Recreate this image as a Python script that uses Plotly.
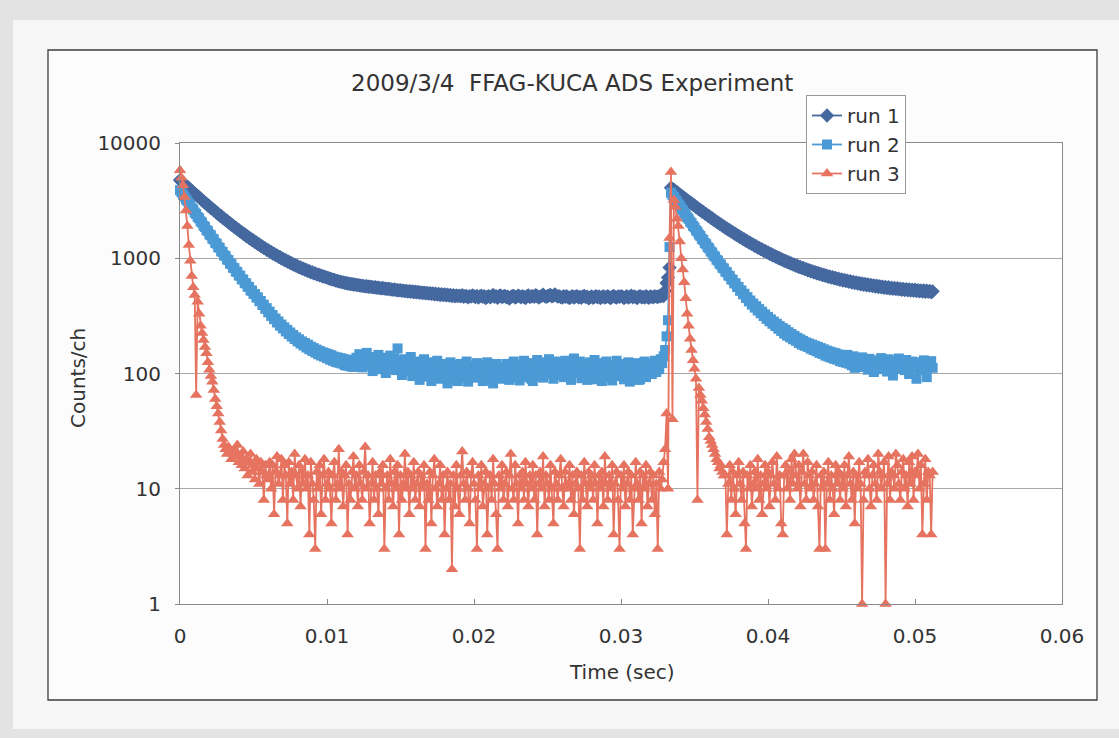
import plotly.graph_objects as go

# Channel width of the time spectrum (s)
CHANNEL_WIDTH = 0.0001

run1 = [
    4770, 4630, 4530, 4380, 4290, 4150, 4070, 3930, 3860, 3730,
    3660, 3540, 3470, 3360, 3300, 3180, 3130, 3020, 2980, 2870,
    2830, 2730, 2690, 2600, 2560, 2470, 2440, 2350, 2330, 2240,
    2215, 2140, 2115, 2040, 2020, 1950, 1925, 1860, 1842, 1780,
    1762, 1700, 1686, 1630, 1615, 1560, 1548, 1495, 1484, 1436,
    1425, 1378, 1370, 1325, 1316, 1274, 1265, 1228, 1220, 1182,
    1176, 1140, 1135, 1100, 1096, 1063, 1060, 1028, 1026, 995,
    993, 964, 962, 935, 933, 907, 906, 881, 880, 857,
    856, 834, 834, 812, 813, 792, 793, 773, 774, 755,
    756, 740, 738, 726, 722, 712, 706, 698, 694, 686,
    678, 672, 664, 660, 652, 648, 640, 636, 630, 626,
    620, 618, 612, 610, 604, 602, 598, 596, 592, 590,
    588, 584, 582, 578, 576, 574, 570, 572, 566, 568,
    564, 562, 558, 560, 554, 556, 550, 548, 552, 544,
    546, 540, 544, 536, 538, 532, 536, 528, 530, 526,
    528, 522, 524, 518, 522, 514, 518, 512, 516, 508,
    512, 506, 510, 502, 506, 498, 504, 496, 500, 494,
    498, 490, 496, 486, 492, 484, 490, 480, 488, 478,
    486, 476, 484, 474, 480, 470, 478, 468, 476, 470,
    474, 466, 478, 462, 472, 468, 458, 470, 464, 476,
    468, 460, 472, 456, 466, 474, 462, 468, 450, 464,
    470, 458, 466, 480, 462, 470, 454, 468, 476, 460,
    466, 472, 458, 464, 446, 460, 468, 472, 456, 462,
    474, 466, 458, 470, 462, 452, 468, 476, 460, 466,
    470, 462, 478, 468, 456, 464, 472, 484, 470, 462,
    468, 476, 480, 466, 472, 486, 474, 464, 470, 460,
    456, 468, 462, 470, 458, 450, 462, 468, 456, 464,
    470, 458, 462, 454, 466, 472, 460, 464, 448, 458,
    466, 454, 462, 470, 458, 466, 452, 460, 468, 456,
    462, 470, 458, 450, 464, 472, 460, 456, 466, 462,
    470, 464, 452, 460, 468, 456, 462, 474, 458, 466,
    460, 452, 464, 470, 458, 462, 456, 468, 460, 454,
    466, 462, 458, 470, 464, 460, 472, 466, 476, 470,
    520, 610, 680, 830,
    4100, 3980, 3930, 3800, 3760, 3630, 3590, 3470, 3430, 3310,
    3280, 3170, 3135, 3030, 3000, 2900, 2870, 2775, 2750, 2655,
    2630, 2545, 2522, 2440, 2418, 2340, 2318, 2245, 2224, 2154,
    2135, 2068, 2050, 1986, 1970, 1910, 1892, 1836, 1820, 1766,
    1752, 1700, 1686, 1638, 1624, 1578, 1566, 1522, 1510, 1468,
    1458, 1418, 1406, 1368, 1360, 1324, 1314, 1280, 1272, 1238,
    1232, 1200, 1193, 1162, 1157, 1128, 1122, 1094, 1090, 1062,
    1058, 1032, 1028, 1003, 1000, 976, 974, 950, 949, 926,
    925, 903, 902, 881, 881, 860, 861, 840, 841, 821,
    824, 804, 806, 787, 790, 771, 774, 756, 759, 741,
    745, 728, 732, 715, 719, 702, 707, 690, 696, 679,
    686, 669, 676, 659, 666, 649, 657, 640, 648, 632,
    640, 624, 632, 616, 624, 609, 617, 602, 611, 595,
    604, 589, 598, 583, 592, 578, 587, 572, 582, 567,
    577, 563, 572, 558, 568, 554, 564, 550, 560, 546,
    556, 542, 553, 539, 549, 536, 546, 533, 543, 530,
    540, 527, 538, 524, 535, 522, 533, 520, 530, 517,
    527, 514, 525, 512, 523, 510, 521, 506, 516,
]

run2 = [
    3900, 3740, 3560, 3430, 3250, 3140, 2975, 2880, 2720, 2640,
    2490, 2420, 2280, 2220, 2090, 2040, 1915, 1870, 1755, 1720,
    1610, 1580, 1480, 1455, 1358, 1338, 1248, 1232, 1148, 1134,
    1058, 1045, 975, 964, 898, 890, 828, 822, 766, 760,
    708, 706, 656, 654, 608, 606, 566, 563, 525, 524,
    490, 489, 456, 457, 424, 426, 393, 396, 364, 369,
    340, 344, 316, 322, 296, 300, 277, 283, 260, 266,
    246, 252, 232, 239, 220, 227, 209, 216, 199, 206,
    190, 198, 182, 190, 175, 184, 168, 178, 162, 171,
    157, 166, 152, 161, 147, 157, 143, 153, 140, 150,
    136, 147, 132, 144, 129, 140, 126, 138, 124, 136,
    122, 134, 118, 132, 117, 131, 115, 130, 114, 128,
    137, 121, 147, 129, 113, 141, 125, 151, 117, 133, 123, 105, 139, 127, 115, 145, 109, 131, 121, 137,
    101, 127, 119, 143, 111, 123, 135, 107, 165, 121, 129, 97, 117, 133, 105, 123, 111, 139, 95, 119,
    127, 103, 115, 88, 121, 109, 133, 94, 117, 105, 125, 86, 111, 123, 99, 129, 90, 113, 103, 121,
    95, 115, 82, 107, 125, 88, 111, 97, 119, 86, 105, 121, 92, 113, 101, 127, 85, 109, 95, 117,
    92, 107, 123, 95, 103, 117, 86, 111, 99, 125, 91, 105, 88, 82, 101, 121, 93, 109, 99, 90,
    113, 95, 121, 103, 88, 115, 99, 127, 92, 107, 119, 87, 111, 101, 129, 93, 115, 105, 123, 90,
    86, 117, 103, 131, 95, 113, 121, 92, 125, 109, 99, 133, 105, 119, 90, 127, 111, 97, 123, 107,
    117, 93, 129, 103, 115, 123, 88, 111, 135, 101, 119, 107, 127, 91, 113, 121, 97, 88, 109, 125,
    99, 117, 131, 89, 113, 105, 123, 86, 111, 101, 127, 93, 119, 107, 87, 115, 103, 129, 95, 117,
    109, 121, 89, 113, 103, 125, 85, 111, 119, 97, 123, 105, 88, 89, 115, 101, 127, 93, 117, 107,
    121, 99, 113, 129, 103, 117, 109, 133, 123, 141,
    160, 210, 290, 1250,
    3700, 3520, 3400, 3220, 3115, 2950, 2855, 2700, 2615, 2475,
    2395, 2268, 2198, 2080, 2016, 1908, 1852, 1750, 1700, 1605,
    1562, 1474, 1436, 1355, 1320, 1246, 1218, 1146, 1120, 1056,
    1032, 972, 952, 897, 880, 828, 815, 764, 756, 708,
    700, 655, 650, 606, 606, 562, 564, 522, 525, 486,
    492, 452, 460, 422, 430, 396, 405, 373, 384, 352,
    362, 334, 344, 315, 326, 298, 310, 284, 295, 270,
    282, 258, 270, 245, 258, 234, 248, 222, 240, 213,
    228, 206, 220, 198, 212, 192, 204, 184, 198, 178,
    192, 174, 186, 170, 182, 164, 178, 160, 174, 156,
    170, 151, 166, 148, 162, 143, 158, 140, 155, 137,
    152, 134, 150, 132, 146, 128, 145, 126, 143, 124,
    145, 122, 138, 118, 141, 112, 136, 124, 131, 116,
    138, 114, 129, 121, 108, 134, 117, 126, 103, 130,
    119, 125, 112, 136, 109, 122, 128, 104, 133, 117,
    124, 96, 128, 113, 120, 135, 110, 118, 126, 107,
    131, 115, 99, 122, 127, 112, 119, 90, 125, 116,
    121, 108, 130, 114, 93, 123, 117, 128, 112,
]

run3 = [
    5800, 5000, 4300, 3400, 2600, 1900, 1300, 950, 700, 560,
    480, 65, 420, 330, 260, 225, 195, 170, 150, 125,
    108, 95, 85, 72, 60, 52, 45, 38, 32, 27,
    24, 22, 20, 23, 21, 18, 20, 22, 19, 24, 17,
    19, 16, 21, 15, 18, 13, 17, 20, 14, 16, 12, 18, 15, 11, 17, 14, 8, 16, 13, 12,
    17, 10, 16, 6, 14, 19, 11, 13, 18, 8, 16, 13, 5, 17, 11, 14, 8, 20, 13, 10,
    16, 7, 14, 11, 18, 10, 13, 4, 17, 11, 8, 3, 14, 10, 16, 6, 13, 18, 8, 11,
    14, 10, 5, 13, 17, 8, 11, 22, 10, 14, 7, 13, 16, 4, 11, 8, 14, 19, 10, 13,
    7, 16, 11, 8, 14, 23, 10, 13, 5, 11, 17, 8, 13, 10, 6, 14, 11, 16, 3, 10,
    13, 8, 18, 11, 7, 14, 10, 16, 4, 13, 8, 11, 20, 10, 14, 6, 13, 10, 17, 8,
    11, 14, 7, 13, 10, 16, 3, 11, 8, 14, 5, 13, 18, 10, 7, 11, 16, 8, 13, 4,
    10, 14, 8, 11, 2, 13, 7, 16, 10, 6, 13, 21, 11, 8, 14, 10, 5, 13, 17, 11,
    8, 3, 13, 10, 16, 7, 11, 14, 4, 10, 13, 8, 18, 11, 6, 3, 13, 10, 16, 8,
    11, 14, 7, 13, 20, 10, 8, 16, 11, 5, 13, 10, 14, 8, 17, 11, 7, 13, 10, 16,
    8, 13, 4, 11, 14, 10, 19, 7, 13, 11, 8, 16, 10, 5, 14, 11, 8, 13, 18, 10,
    7, 14, 11, 10, 16, 8, 13, 6, 11, 14, 10, 3, 13, 8, 17, 11, 7, 14, 10, 13,
    8, 16, 11, 5, 13, 10, 14, 7, 19, 11, 8, 13, 10, 16, 4, 11, 14, 8, 3, 13,
    10, 16, 7, 11, 14, 8, 13, 4, 10, 17, 11, 8, 14, 5, 13, 10, 16, 7, 11, 14,
    8, 13, 6, 11, 3, 14, 10,
    12, 17, 22, 45, 10, 1500, 5600, 40, 3200, 2800,
    2200, 1900, 1400, 1000, 800, 620, 450, 330, 260, 200,
    160, 130, 110, 90, 8, 75, 65, 58, 50, 44,
    38, 33, 28, 26, 24, 22, 20, 18, 17, 15,
    16, 14, 13,
    13, 4, 11, 16, 8, 14, 10, 6, 13, 17, 11, 8, 14, 5, 3, 13, 10, 16, 7, 11,
    14, 10, 18, 8, 13, 6, 11, 16, 10, 14, 7, 13, 17, 11, 8, 19, 10, 13, 5, 4,
    13, 16, 10, 14, 8, 18, 11, 20, 13, 10, 16, 7, 14, 20, 11, 8, 17, 13, 10, 14,
    8, 11, 16, 7, 3, 13, 10, 14, 3, 11, 17, 8, 13, 10, 6, 16, 11, 14, 8, 13,
    10, 16, 7, 13, 19, 11, 8, 14, 5, 13, 10, 17, 11, 1, 8, 14, 13, 18, 10, 7,
    13, 16, 11, 8, 20, 14, 10, 13, 17, 1, 11, 19, 8, 14, 13, 10, 20, 16, 11, 8,
    14, 18, 10, 13, 7, 17, 11, 19, 8, 14, 13, 20, 10, 16, 4, 11, 18, 8, 14, 13,
    4, 14,
]

assert len(run1) == len(run2) == len(run3)
time_s = [round(j * CHANNEL_WIDTH, 4) for j in range(len(run1))]

x_ticks = [0, 0.01, 0.02, 0.03, 0.04, 0.05, 0.06]
x_ticktext = ["0", "0.01", "0.02", "0.03", "0.04", "0.05", "0.06"]
y_ticks = [1, 10, 100, 1000, 10000]
y_ticktext = ["1", "10", "100", "1000", "10000"]

series_names = ["run 1", "run 2", "run 3"]
series_colors = ["#45689F", "#4B9AD6", "#E6735F"]
series_symbols = ["diamond", "square", "triangle-up"]
series_sizes = [11, 10, 11]

W, H = 1119, 738
PL, PR, PT, PB = 180, 1062, 143, 604  # plot area edges in pixels
FONT = "DejaVu Sans"
TXT = "#333333"


def fx(px):
    return (px - PL) / (PR - PL)


def fy(py):
    return (PB - py) / (PB - PT)


fig = go.Figure()
for name, vals, col, sym, sz in zip(series_names, [run1, run2, run3],
                                    series_colors, series_symbols, series_sizes):
    fig.add_trace(go.Scatter(
        x=time_s, y=vals, name=name, mode="lines+markers",
        line=dict(color=col, width=1.8),
        marker=dict(symbol=sym, size=sz, color=col, line=dict(width=0)),
        cliponaxis=False,
    ))

shapes = [
    # page
    dict(type="rect", xref="paper", yref="paper", x0=fx(13), x1=fx(1119), y0=fy(20), y1=fy(729),
         fillcolor="#f6f6f6", line=dict(width=0), layer="below"),
    # chart frame
    dict(type="rect", xref="paper", yref="paper", x0=fx(48), x1=fx(1097), y0=fy(50), y1=fy(700),
         fillcolor="#fcfcfc", line=dict(color="#3c3c3c", width=1.3), layer="below"),
    # plot area
    dict(type="rect", xref="paper", yref="paper", x0=0, x1=1, y0=0, y1=1,
         fillcolor="#ffffff", line=dict(width=0), layer="below"),
]

annotations = [
    dict(text="2009/3/4  FFAG-KUCA ADS Experiment", xref="paper", yref="paper",
         x=fx(572), y=fy(83), xanchor="center", yanchor="middle", showarrow=False,
         font=dict(family=FONT, size=23, color=TXT)),
    dict(text="Time (sec)", xref="paper", yref="paper", x=fx(622), y=fy(672),
         xanchor="center", yanchor="middle", showarrow=False,
         font=dict(family=FONT, size=20, color=TXT)),
    dict(text="Counts/ch", xref="paper", yref="paper", x=fx(78), y=fy(378),
         xanchor="center", yanchor="middle", showarrow=False, textangle=-90,
         font=dict(family=FONT, size=20, color=TXT)),
]

fig.update_layout(
    width=W, height=H,
    margin=dict(l=PL, r=W - PR, t=PT, b=H - PB),
    paper_bgcolor="#e3e3e3",
    plot_bgcolor="#ffffff",
    font=dict(family=FONT, size=20, color=TXT),
    shapes=shapes,
    annotations=annotations,
    showlegend=True,
    legend=dict(
        x=fx(806), y=fy(95), xanchor="left", yanchor="top",
        bgcolor="#ffffff", bordercolor="#9a9a9a", borderwidth=1,
        font=dict(family=FONT, size=20, color=TXT),
        itemwidth=30, tracegroupgap=0,
    ),
    xaxis=dict(
        range=[0, 0.06], tickvals=x_ticks, ticktext=x_ticktext,
        showgrid=False, zeroline=False,
        showline=True, mirror=True, linecolor="#8a8a8a", linewidth=1,
        ticks="inside", ticklen=5, tickcolor="#8a8a8a",
        ticklabelstandoff=14,
        tickfont=dict(family=FONT, size=20, color=TXT),
    ),
    yaxis=dict(
        type="log", range=[0, 4], tickvals=y_ticks, ticktext=y_ticktext,
        showgrid=True, gridcolor="#a8a8a8", gridwidth=1, zeroline=False,
        showline=True, mirror=True, linecolor="#8a8a8a", linewidth=1,
        ticks="outside", ticklen=4, tickcolor="#8a8a8a",
        ticklabelstandoff=10,
        tickfont=dict(family=FONT, size=20, color=TXT),
    ),
)

fig.write_html("out.html")
